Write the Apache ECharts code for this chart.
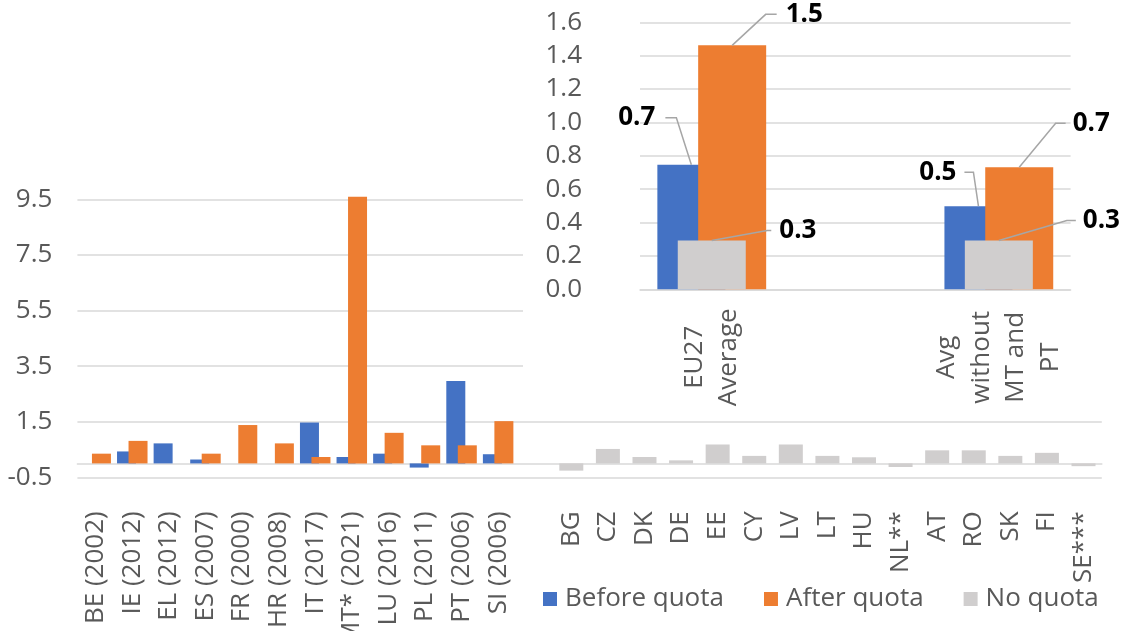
<!DOCTYPE html>
<html><head><meta charset="utf-8">
<script src="https://cdn.jsdelivr.net/npm/echarts@6/dist/echarts.min.js"></script>
<style>html,body{margin:0;padding:0;background:#fff}#c{width:1129px;height:631px}</style>
</head><body><div id="c"></div>
<script>
// ---- data ----
const quotaCats = ['BE (2002)', 'IE (2012)', 'EL (2012)', 'ES (2007)', 'FR (2000)', 'HR (2008)', 'IT (2017)', 'MT* (2021)', 'LU (2016)', 'PL (2011)', 'PT (2006)', 'SI (2006)'];
const beforeQuota = [null, 0.43, 0.72, 0.14, null, null, 1.47, 0.23, 0.35, -0.15, 2.96, 0.33];
const afterQuota  = [0.35, 0.81, null, 0.35, 1.38, 0.72, 0.23, 9.59, 1.10, 0.65, 0.65, 1.52];
const noQuotaCats = ['BG', 'CZ', 'DK', 'DE', 'EE', 'CY', 'LV', 'LT', 'HU', 'NL**', 'AT', 'RO', 'SK', 'FI', 'SE***'];
const noQuota     = [-0.26, 0.52, 0.23, 0.11, 0.68, 0.27, 0.68, 0.27, 0.22, -0.13, 0.47, 0.47, 0.27, 0.38, -0.10];
const insetCats    = ['EU27\nAverage', '', 'Avg\nwithout\nMT and\nPT'];
const insetBefore  = [0.746, null, 0.498];
const insetAfter   = [1.462, null, 0.732];
const insetNoQuota = [0.292, null, 0.292];
const mainAxis  = {min: -0.5, max: 9.5, step: 2};
const insetAxis = {min: 0, max: 1.6, step: 0.2};
const seriesNames = ['Before quota', 'After quota', 'No quota'];

// ---- derived ----
const pad = n => Array(n).fill(null);
const mainCats = quotaCats.concat([''], noQuotaCats);
const beforeAll = beforeQuota.concat(pad(1 + noQuotaCats.length));
const afterAll = afterQuota.concat(pad(1 + noQuotaCats.length));
const noneAll = pad(quotaCats.length + 1).concat(noQuota);

// ---- styles ----
const FONT = "'Open Sans', 'Noto Sans', sans-serif";
const TXT = '#595959';
const GRID = '#d9d9d9';
const C_BEFORE = '#4472C4', C_AFTER = '#ED7D31', C_NONE = '#D0CECE';

// label placement for the inset (relative to bar top centre)
const labelPlacement = {
  before: [{dx: -36, dy: -47, side: 'left', elbow: 21, end: 10}, null, {dx: -22, dy: -34, side: 'left', elbow: 17, end: 8}],
  after:  [{dx: 53.5, dy: -31, side: 'right', elbow: 20, end: 9}, null, {dx: 53.4, dy: -44, side: 'right', elbow: 17, end: 7}],
  none:   [{dx: 67.5, dy: -10, side: 'right', elbow: 12, end: 8}, null, {dx: 84, dy: -20, side: 'right', elbow: 16, end: 7}]
};
const leaderPoints = {};
function makeLayout(key) {
  return function (p) {
    const cfg = labelPlacement[key][p.dataIndex];
    if (!cfg || !p.rect) return {};
    const cx = p.rect.x + p.rect.width / 2, top = p.rect.y;
    const lx = cx + cfg.dx, ly = top + cfg.dy;
    const s = cfg.side === 'right' ? -1 : 1;
    leaderPoints[key + p.dataIndex] = [[cx, top], [lx + s * cfg.elbow, ly], [lx + s * cfg.end, ly]];
    return {x: lx, y: ly, align: cfg.side === 'right' ? 'left' : 'right', verticalAlign: 'middle'};
  };
}
const insetLabel = {
  show: true, formatter: p => (p.value == null ? '' : p.value.toFixed(1)),
  fontSize: 26, fontWeight: 'bold', color: '#000', fontFamily: FONT
};

function buildOption(extraGraphic) {
  return {
    animation: false,
    backgroundColor: '#fff',
    textStyle: {fontFamily: FONT},
    grid: [
      {left: 77.4, right: 27.2, top: 199.3, height: 278, outerBoundsMode: 'none', containLabel: false},
      {left: 640, right: 58.4, top: 22.3, height: 267, outerBoundsMode: 'none', containLabel: false}
    ],
    xAxis: [
      {type: 'category', gridIndex: 0, data: mainCats,
       axisLine: {onZero: true, lineStyle: {color: GRID, width: 1.5}},
       axisTick: {show: false},
       axisLabel: {interval: 0, rotate: 90, margin: 34, fontSize: 26, color: TXT, fontFamily: FONT}},
      {type: 'category', gridIndex: 0, data: mainCats, show: false, position: 'bottom'},
      {type: 'category', gridIndex: 1, data: insetCats, z: 2,
       axisLine: {lineStyle: {color: GRID, width: 1.5}},
       axisTick: {show: false},
       axisLabel: {interval: 0, rotate: 90, align: 'center', verticalAlign: 'middle', margin: 68, lineHeight: 34.5,
                   fontSize: 26, color: TXT, fontFamily: FONT}}
    ],
    yAxis: [
      {type: 'value', gridIndex: 0, min: mainAxis.min, max: mainAxis.max, interval: mainAxis.step,
       axisLine: {show: false}, axisTick: {show: false},
       splitLine: {lineStyle: {color: GRID, width: 1.5}},
       axisLabel: {margin: 25, fontSize: 26, color: TXT, fontFamily: FONT, formatter: v => v.toFixed(1)}},
      {type: 'value', gridIndex: 1, min: insetAxis.min, max: insetAxis.max, interval: insetAxis.step, z: 2,
       axisLine: {show: false}, axisTick: {show: false},
       splitLine: {lineStyle: {color: GRID, width: 1.5}},
       axisLabel: {margin: 58, fontSize: 26, color: TXT, fontFamily: FONT, formatter: v => v.toFixed(1)}}
    ],
    legend: {
      data: seriesNames, left: 543, top: 586, padding: 0, icon: 'rect', itemWidth: 14, itemHeight: 14, itemGap: 40,
      textStyle: {fontSize: 26, color: TXT, fontFamily: FONT, padding: [0, 0, 0, 3]}
    },
    graphic: [
      {id: 'insetBg', type: 'rect', z: 1, silent: true,
       shape: {x: 523, y: 0, width: 606, height: 416}, style: {fill: '#fff'}}
    ].concat(extraGraphic || []),
    series: [
      {name: seriesNames[0], type: 'bar', xAxisIndex: 0, yAxisIndex: 0, data: beforeAll, clip: false,
       barWidth: 19, barGap: '-39.5%', itemStyle: {color: C_BEFORE}},
      {name: seriesNames[1], type: 'bar', xAxisIndex: 0, yAxisIndex: 0, data: afterAll, clip: false,
       barWidth: 19, barGap: '-39.5%', itemStyle: {color: C_AFTER}},
      {name: seriesNames[2], type: 'bar', xAxisIndex: 1, yAxisIndex: 0, data: noneAll, clip: false,
       barWidth: 24, itemStyle: {color: C_NONE}},
      {name: seriesNames[0], type: 'bar', xAxisIndex: 2, yAxisIndex: 1, data: insetBefore, z: 3,
       barWidth: 68, barGap: '-70%', itemStyle: {color: C_BEFORE},
       label: insetLabel, labelLayout: makeLayout('before')},
      {name: seriesNames[2], type: 'bar', xAxisIndex: 2, yAxisIndex: 1, data: insetNoQuota, z: 5,
       barWidth: 68, barGap: '-70%', itemStyle: {color: C_NONE},
       label: insetLabel, labelLayout: makeLayout('none')},
      {name: seriesNames[1], type: 'bar', xAxisIndex: 2, yAxisIndex: 1, data: insetAfter, z: 4,
       barWidth: 68, barGap: '-70%', itemStyle: {color: C_AFTER},
       label: insetLabel, labelLayout: makeLayout('after')}
    ]
  };
}

const chart = echarts.init(document.getElementById('c'), null, {renderer: 'canvas'});
chart.setOption(buildOption());
const leaders = Object.keys(leaderPoints).map(k => ({
  id: 'lead_' + k, type: 'polyline', z: 10, silent: true,
  shape: {points: leaderPoints[k]},
  style: {stroke: '#A6A6A6', lineWidth: 1.5, fill: null}
}));
chart.setOption(buildOption(leaders));
</script>
</body></html>
